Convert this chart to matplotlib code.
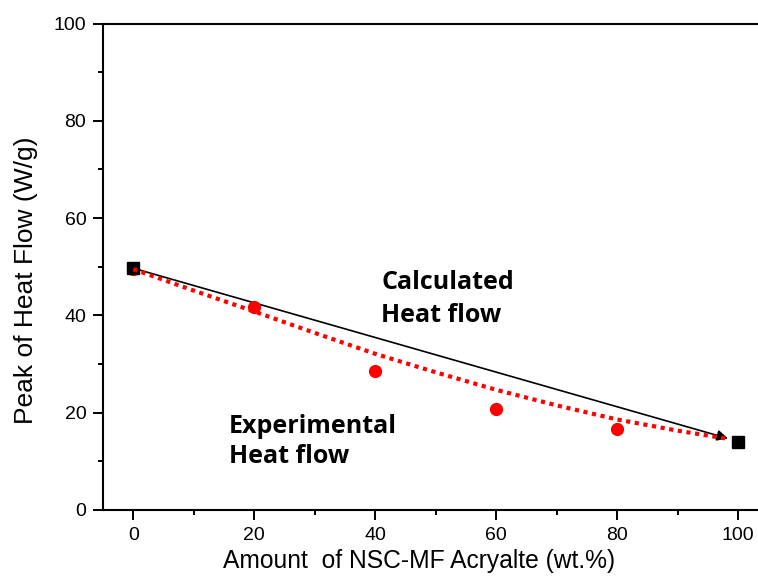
import matplotlib
matplotlib.use("Agg")
import matplotlib.pyplot as plt
from matplotlib.ticker import MultipleLocator

# Data
calc_x = [0, 100]
calc_y = [49.7, 14.0]
arrow_end = (98.3, 14.7)

exp_x = [0, 20, 40, 60, 80]
exp_y = [49.5, 41.8, 28.6, 20.7, 16.6]

fit_x = [0, 10, 20, 30, 40, 50, 60, 70, 80, 90, 98]
fit_y = [49.5, 45.1, 40.8, 36.4, 32.1, 28.3, 24.7, 21.5, 18.6, 16.3, 14.7]

x_ticks = [0, 20, 40, 60, 80, 100]
y_ticks = [0, 20, 40, 60, 80, 100]

W, H = 758, 587
fig = plt.figure(figsize=(W / 100, H / 100), dpi=100)
left, right_px = 103, 768.5
top_px, bottom_px = 23.5, 510
ax = fig.add_axes([left / W, 1 - bottom_px / H, (right_px - left) / W, (bottom_px - top_px) / H])

ax.set_xlim(-5, 105)
ax.set_ylim(0, 100)

# calculated line with arrow
ax.annotate("", xy=arrow_end, xytext=(calc_x[0], calc_y[0]),
            arrowprops=dict(arrowstyle="-|>", color="black", lw=1.2,
                            mutation_scale=16, shrinkA=0, shrinkB=0), zorder=2)

ax.plot(exp_x, exp_y, linestyle="none", marker="o", color="#ff0000", markersize=8.5, zorder=3)
ax.plot(calc_x, calc_y, linestyle="none", marker="s", color="black", markersize=8, zorder=4)

# experimental fit curve
ax.plot(fit_x, fit_y, color="#ff0000", lw=3, linestyle=(0, (1, 1.1)), zorder=5,
        solid_capstyle="butt", dash_capstyle="butt")

ax.set_xticks(x_ticks)
ax.set_yticks(y_ticks)
ax.xaxis.set_minor_locator(MultipleLocator(10))
ax.yaxis.set_minor_locator(MultipleLocator(10))

for s in ax.spines.values():
    s.set_linewidth(1.5)
ax.spines["right"].set_visible(False)

ax.tick_params(which="major", direction="out", length=7, width=1.4, labelsize=14, pad=5)
ax.tick_params(which="minor", direction="out", length=3.5, width=1.4)
for lab in ax.get_xticklabels() + ax.get_yticklabels():
    lab.set_fontfamily("Liberation Sans")

ax.set_xlabel("Amount  of NSC-MF Acryalte (wt.%)", fontsize=17.7, family="Liberation Sans")
ax.set_ylabel("Peak of Heat Flow (W/g)", fontsize=19, family="Liberation Sans")
ax.xaxis.set_label_coords(0.475, -0.08)
ax.yaxis.set_label_coords(-0.098, 0.473)

tkw = dict(fontsize=18, fontweight="bold", family="Open Sans", ha="left", va="baseline")
ax.text(41.0, 45.4, "Calculated", **tkw)
ax.text(41.0, 38.6, "Heat flow", **tkw)
ax.text(15.8, 15.9, "Experimental", **tkw)
ax.text(15.8, 9.7, "Heat flow", **tkw)

fig.savefig("out.png", dpi=100)
